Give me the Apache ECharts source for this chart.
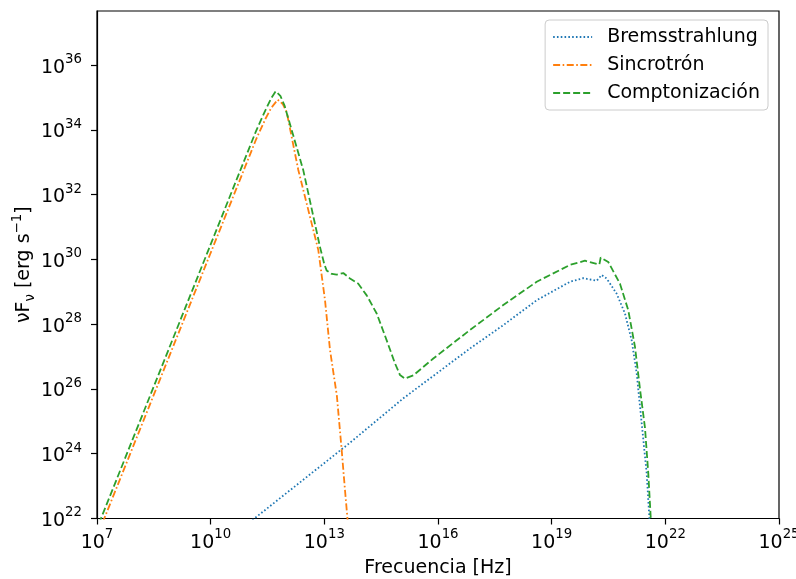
<!DOCTYPE html>
<html>
<head>
<meta charset="utf-8">
<script src="https://cdn.jsdelivr.net/npm/echarts@6/dist/echarts.min.js"></script>
<style>
html,body{margin:0;padding:0;background:#fff;}
#chart{width:796px;height:579px;}
</style>
</head>
<body>
<div id="chart"></div>
<script>
// log10(frequency [Hz]) and log10(nuF_nu [erg/s])
const bremsLogNu   = [11.1, 11.215, 13.677, 15.084, 16.844, 17.723, 18.605, 19.484, 19.835, 20.188, 20.24, 20.32, 20.452, 20.716, 20.935, 21.112, 21.244, 21.376, 21.508, 21.577, 21.59];
const bremsLogNuFnu= [21.95, 22.056, 24.34, 25.71, 27.25, 27.97, 28.74, 29.31, 29.42, 29.34, 29.32, 29.52, 29.41, 28.94, 28.33, 27.50, 26.48, 24.94, 23.39, 22.06, 21.8];

const syncLogNu    = [7.15, 7.211, 9.98, 11.2, 11.45, 11.6, 11.769, 11.9, 12.007, 12.313, 12.841, 13.018, 13.15, 13.33, 13.458, 13.545, 13.606, 13.63];
const syncLogNuFnu = [21.87, 22.056, 30.145, 33.71, 34.35, 34.68, 34.93, 34.80, 34.55, 32.76, 30.29, 28.74, 27.20, 25.80, 24.11, 22.88, 22.06, 21.7];

const comptLogNu   = [7.05, 7.124, 9.937, 11.2, 11.45, 11.6, 11.716, 11.84, 11.95, 12.1, 12.445, 12.886, 13.0, 13.06, 13.2, 13.326, 13.5, 13.677, 13.896, 14.118, 14.382, 14.646, 14.865, 14.997, 15.129, 15.348, 15.876, 16.844, 17.723, 18.605, 19.484, 19.879, 20.188, 20.26, 20.294, 20.494, 20.803, 21.022, 21.199, 21.331, 21.463, 21.55, 21.613, 21.625];
const comptLogNuFnu= [21.84, 22.056, 30.279, 33.97, 34.62, 34.98, 35.19, 35.05, 34.75, 34.15, 32.75, 30.38, 29.85, 29.66, 29.55, 29.53, 29.58, 29.41, 29.25, 28.89, 28.33, 27.50, 26.79, 26.43, 26.32, 26.42, 26.94, 27.82, 28.59, 29.31, 29.83, 29.96, 29.86, 29.85, 30.06, 29.92, 29.25, 28.43, 27.30, 26.0, 24.8, 23.39, 22.06, 21.8];

const xTickExps = [7, 10, 13, 16, 19, 22, 25];
const yTickExps = [22, 24, 26, 28, 30, 32, 34, 36];

const seriesNames = ['Bremsstrahlung', 'Sincrotrón', 'Comptonización'];

function pairs(xs, ys){ return xs.map((x,i)=>[x, ys[i]]); }

const FONT = 'DejaVu Sans';
const tickRich = {
  b: {fontFamily: FONT, fontSize: 19, color: '#000', lineHeight: 24, verticalAlign: 'bottom'},
  s: {fontFamily: FONT, fontSize: 13.3, color: '#000', lineHeight: 14, verticalAlign: 'top'}
};
function expLabel(v){
  return Math.abs(v - Math.round(v)) < 1e-6 ? '{b|10}{s|' + Math.round(v) + '}' : '';
}

const chart = echarts.init(document.getElementById('chart'), null, {renderer: 'canvas'});
chart.setOption({
  animation: false,
  backgroundColor: '#fff',
  grid: {left: 97, right: 17, top: 11, bottom: 60.5, containLabel: false, outerBoundsMode: 'none',
         show: true, borderColor: '#000', borderWidth: 1.2, backgroundColor: 'transparent'},
  legend: {
    orient: 'vertical', right: 28, top: 20,
    itemWidth: 39, itemHeight: 14, itemGap: 8,
    padding: [7, 8, 7, 7],
    backgroundColor: 'rgba(255,255,255,0.8)', borderColor: '#cccccc', borderWidth: 1, borderRadius: 4,
    itemStyle: {color: 'transparent', borderColor: 'transparent', borderWidth: 0, opacity: 0},
    textStyle: {fontFamily: FONT, fontSize: 19, color: '#000', padding: [0, 0, 0, 10], lineHeight: 20},
    data: seriesNames
  },
  xAxis: {
    type: 'value', min: 7, max: 25, interval: 3,
    name: 'Frecuencia [Hz]', nameLocation: 'middle', nameGap: 40,
    nameTextStyle: {fontFamily: FONT, fontSize: 19, color: '#000'},
    axisLine: {show: true, lineStyle: {color: '#000', width: 1.2}},
    axisTick: {show: true, length: 6, lineStyle: {color: '#000', width: 1.2}, customValues: xTickExps},
    axisLabel: {margin: 10, formatter: expLabel, rich: tickRich, customValues: xTickExps, hideOverlap: false},
    splitLine: {show: false}
  },
  yAxis: {
    type: 'value', min: 22, max: 37.67, interval: 2,
    name: '{a|νF}{sub|ν}{a| [erg s}{sup|−1}{a|]}', nameLocation: 'middle', nameGap: 60, nameRotate: 90,
    nameMoveOverlap: false,
    nameTextStyle: {
      fontFamily: FONT, fontSize: 19, color: '#000',
      rich: {
        a: {fontFamily: FONT, fontSize: 19, color: '#000', lineHeight: 26, verticalAlign: 'middle'},
        sub: {fontFamily: FONT, fontSize: 13.3, color: '#000', lineHeight: 14, verticalAlign: 'bottom'},
        sup: {fontFamily: FONT, fontSize: 13.3, color: '#000', lineHeight: 14, verticalAlign: 'top'}
      }
    },
    axisLine: {show: true, lineStyle: {color: '#000', width: 1.2}},
    axisTick: {show: true, length: 6, lineStyle: {color: '#000', width: 1.2}, customValues: yTickExps},
    axisLabel: {margin: 15, formatter: expLabel, rich: tickRich, customValues: yTickExps},
    splitLine: {show: false}
  },
  series: [
    {name: seriesNames[0], type: 'line', data: pairs(bremsLogNu, bremsLogNuFnu), symbol: 'none', clip: true,
     lineStyle: {color: '#1f77b4', width: 1.8, type: [1.6, 2.2]}, itemStyle: {color: '#1f77b4'}},
    {name: seriesNames[1], type: 'line', data: pairs(syncLogNu, syncLogNuFnu), symbol: 'none', clip: true,
     lineStyle: {color: '#ff7f0e', width: 1.8, type: [7, 2.5, 1.6, 2.5]}, itemStyle: {color: '#ff7f0e'}},
    {name: seriesNames[2], type: 'line', data: pairs(comptLogNu, comptLogNuFnu), symbol: 'none', clip: true,
     lineStyle: {color: '#2ca02c', width: 1.8, type: [7, 3]}, itemStyle: {color: '#2ca02c'}}
  ]
});
</script>
</body>
</html>
